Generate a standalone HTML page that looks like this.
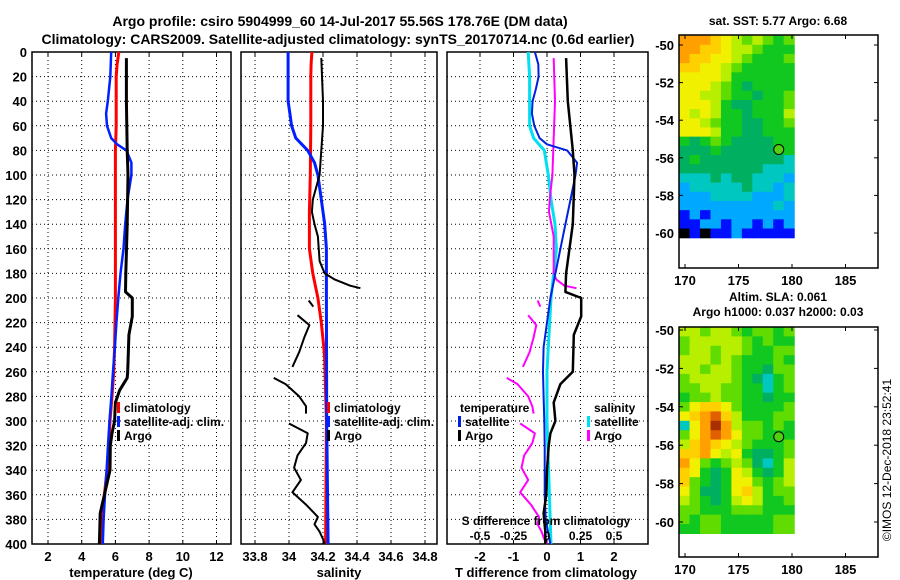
<!DOCTYPE html>
<html><head><meta charset="utf-8"><style>
html,body{margin:0;padding:0;background:#fff;}
svg{display:block;font-family:"Liberation Sans",sans-serif;font-weight:bold;}
</style></head><body>
<svg id="c" width="900" height="580" viewBox="0 0 900 580">
<text x="340" y="26" font-size="14" text-anchor="middle">Argo profile: csiro 5904999_60 14-Jul-2017 55.56S 178.76E (DM data)</text>
<text x="338" y="44" font-size="14" text-anchor="middle">Climatology: CARS2009. Satellite-adjusted climatology: synTS_20170714.nc (0.6d earlier)</text>
<g id="g"></g>
<text transform="translate(891,460) rotate(-90)" font-size="12" font-weight="normal" text-anchor="middle">©IMOS 12-Dec-2018 23:52:41</text>
</svg>
<script>
// ---------- data ----------
const depthTicks=[0,20,40,60,80,100,120,140,160,180,200,220,240,260,280,300,320,340,360,380,400];
const tempTicks=[2,4,6,8,10,12];
const salTicks=[33.8,34,34.2,34.4,34.6,34.8];
const salTickLabels=["33.8","34","34.2","34.4","34.6","34.8"];
const tdTicks=[-2,-1,0,1,2];
const sdTicks=[-0.5,-0.25,0,0.25,0.5];
const sdTickLabels=["-0.5","-0.25","0","0.25","0.5"];

const climTDepth=[0,10,20,60,80,180,200,240,260,280,300,320,340,360,380,400];
const climTVal=[6.2,6.1,6.05,6.05,6.0,6.0,6.0,5.95,5.9,5.8,5.68,5.6,5.5,5.35,5.25,5.15];
const satTDepth=[0,20,40,50,60,70,75,80,90,100,120,140,160,180,200,220,240,260,280,300,320,340,360,380,400];
const satTVal=[5.75,5.7,5.55,5.45,5.5,5.75,6.1,6.65,6.95,6.95,6.72,6.58,6.48,6.3,6.17,6.06,5.97,5.86,5.76,5.65,5.56,5.48,5.38,5.3,5.25];
const argoTDepth=[5,40,80,100,140,180,195,200,215,230,260,265,275,285,300,310,320,340,360,375,400];
const argoTVal=[6.65,6.65,6.7,6.75,6.7,6.62,6.6,7.0,7.0,6.8,6.73,6.7,6.25,6.0,5.95,5.8,5.7,5.68,5.35,5.1,5.05];

const climSDepth=[0,10,20,60,100,130,160,180,200,220,240,250,300,400];
const climSVal=[34.135,34.13,34.128,34.128,34.125,34.12,34.12,34.14,34.17,34.19,34.205,34.21,34.22,34.215];
const satSDepth=[0,40,50,60,70,80,90,100,120,140,160,200,300,400];
const satSVal=[33.995,33.995,34.005,34.015,34.04,34.11,34.15,34.17,34.19,34.21,34.22,34.22,34.222,34.23];
const argoSDepth=[[5,40,60,80,100,110,120,130,140,150,170,180,185,190,192],[202,207],[214,222,232,244,256],[265,270,280,288,294],[302,310,318,328,338,348,358,368,378,384,390,396,400]];
const argoSVal=[[34.19,34.2,34.2,34.19,34.18,34.16,34.14,34.135,34.15,34.17,34.18,34.21,34.27,34.36,34.42],[34.116,34.143],[34.05,34.12,34.09,34.06,34.02],[33.91,33.98,34.06,34.1,34.1],[34.0,34.11,34.1,34.05,34.03,34.07,34.02,34.1,34.17,34.15,34.18,34.2,34.21]];

const dSatTDepth=[0,10,20,30,40,50,60,70,75,80,90,100,120,140,160,180,200,220,240,260,280,300,320,340,360,380,400];
const dSatTVal=[-0.36,-0.26,-0.25,-0.33,-0.43,-0.45,-0.38,-0.22,0,0.6,0.9,0.85,0.7,0.55,0.4,0.25,0.1,0.0,-0.1,-0.12,-0.1,-0.08,-0.07,-0.07,-0.07,-0.04,0.1];
const dArgoTDepth=[5,40,80,100,140,180,195,200,215,230,260,270,285,300,310,320,340,360,375,390,400];
const dArgoTVal=[0.57,0.62,0.77,0.82,0.77,0.57,0.55,1.02,1.02,0.8,0.77,0.4,0.2,0.25,0.1,0.05,0.0,-0.02,-0.1,-0.05,-0.05];
const dSatSDepth=[0,20,60,70,80,100,120,140,160,180,200,240,260,300,400];
const dSatSVal=[-0.14,-0.13,-0.13,-0.1,-0.02,0.01,0.03,0.06,0.07,0.05,0.03,0.01,0.0,0.0,0.03];
const dArgoSDepth=[[5,40,100,120,130,150,180,185,190,192],[202,207],[214,222,232,244,256],[265,270,280,288,294],[302,310,318,328,338,348,358,368,378,384,390,396,400]];
const dArgoSVal=[[0.05,0.06,0.04,0.02,0.015,0.05,0.05,0.07,0.13,0.22],[-0.07,-0.05],[-0.14,-0.08,-0.1,-0.13,-0.18],[-0.3,-0.22,-0.14,-0.11,-0.1],[-0.2,-0.09,-0.11,-0.17,-0.19,-0.14,-0.2,-0.12,-0.06,-0.07,-0.04,-0.02,0.0]];

const lonTicks=[170,175,180,185];
const latTicks=[-50,-52,-54,-56,-58,-60];
const sstTitle="sat. SST: 5.77 Argo: 6.68";
const slaTitle1="Altim. SLA: 0.061";
const slaTitle2="Argo h1000: 0.037 h2000: 0.03";
const floatLon=178.76, floatLat=-55.56;
const sstGrid=["AAA98767656","AA998776555","A9988765556","99887655555","88887555555","88876545555","88776554556","88875445556","87875545557","88765544556","88875544555","54565444455","44454444445","45444444443","44444444333","33343443332","23333343323","22233332223","22222222232","12122222222","11221221212","01011211111"];
const slaGrid=["77677656656","67777765655","67767765566","77767655565","77677655466","67777654356","66776655356","56676655455","68998655556","89AB9755566","38ACA766565","68ABA866555","79A98765556","99A87854456","A8656764357","98545875457","96545886567","86445897566","76545787556","66555666555","65665555566","55665555566"];
const palette={"0":"#000000","1":"#0010ff","2":"#00a8ff","3":"#00c8c0","4":"#00b060","5":"#10c820","6":"#60dc00","7":"#b8ee00","8":"#f0f000","9":"#ffd000","A":"#ffa000","B":"#e06000","C":"#a83000"};

// ---------- helpers ----------
const NS="http://www.w3.org/2000/svg";
const G=document.getElementById('g');
function mk(tag,attrs,parent){const e=document.createElementNS(NS,tag);for(const k in attrs)e.setAttribute(k,attrs[k]);(parent||G).appendChild(e);return e;}
const Y0=52,Y1=544;
const yD=d=>Y0+(d/400)*(Y1-Y0);
const panels=[
 {x0:32,x1:231,f:v=>48+(v-2)*16.85},
 {x0:241,x1:437,f:v=>289+(v-34)*170},
 {x0:447,x1:648,f:v=>547+v*33.5}
];
const sdX=v=>547+v*134;

function grid(p,xt,lbl,name){
  for(const d of depthTicks){
    const l=mk('line',{x1:p.x0,x2:p.x1,y1:yD(d),y2:yD(d),stroke:'#000','stroke-width':1,'stroke-dasharray':'1,3'});
    
    
  }
  xt.forEach((v,i)=>{
    const x=p.f(v);
    const l=mk('line',{x1:x,x2:x,y1:Y0,y2:Y1,stroke:'#000','stroke-width':1,'stroke-dasharray':'1,3'});
    
    
    mk('line',{x1:x,x2:x,y1:Y1,y2:Y1-4,stroke:'#000'});
    mk('line',{x1:x,x2:x,y1:Y0,y2:Y0+4,stroke:'#000'});
    if(lbl){const t=mk('text',{x:x,y:Y1+17,'font-size':13,'text-anchor':'middle'});t.textContent=lbl[i];
      
      }
  });
  const r=mk('rect',{x:p.x0,y:Y0,width:p.x1-p.x0,height:Y1-Y0,fill:'none',stroke:'#000','stroke-width':1.5});
  
  
}
function line(p,f,depths,vals,color,w,name){
  const pts=depths.map((d,i)=>f(vals[i]).toFixed(1)+','+yD(d).toFixed(1)).join(' ');
  const e=mk('polyline',{points:pts,fill:'none',stroke:color,'stroke-width':w,'stroke-linejoin':'round'});
  
  
}
function txt(x,y,s,size,anchor,name,weight){
  const t=mk('text',{x:x,y:y,'font-size':size,'text-anchor':anchor||'start'});
  if(weight)t.setAttribute('font-weight',weight);
  t.textContent=s;
  
  
  return t;
}
function legMark(x,y,c,name){
  const r=mk('rect',{x:x,y:y-10,width:3,height:11,fill:c});
  
  
}

// y labels
for(const d of depthTicks){txt(27,yD(d)+5,String(d),13,'end','y-tick-label');}

// panel 1
const p1=panels[0];
grid(p1,tempTicks,tempTicks.map(String),'temp-panel');
line(p1,p1.f,climTDepth,climTVal,'#ff0000',3,'temp-climatology-line');
line(p1,p1.f,satTDepth,satTVal,'#0020ff',2.5,'temp-satellite-line');
line(p1,p1.f,argoTDepth,argoTVal,'#000',3,'temp-argo-line');
txt(131,577,'temperature (deg C)',13,'middle','temp-x-axis-title');
legMark(117,412,'#ff0000','legend-climatology-mark');txt(124,412,'climatology',12,'start','legend-climatology');
legMark(117,426,'#0020ff','legend-satellite-mark');txt(124,426,'satellite-adj. clim.',12,'start','legend-satellite');
legMark(117,440,'#000','legend-argo-mark');txt(124,440,'Argo',12,'start','legend-argo');

// panel 2
const p2=panels[1];
grid(p2,salTicks,salTickLabels,'sal-panel');
line(p2,p2.f,climSDepth,climSVal,'#ff0000',3,'sal-climatology-line');
line(p2,p2.f,satSDepth,satSVal,'#0020ff',3,'sal-satellite-line');
argoSDepth.forEach((ds,i)=>line(p2,p2.f,ds,argoSVal[i],'#000',2,'sal-argo-segment'));
txt(339,577,'salinity',13,'middle','sal-x-axis-title');
legMark(327,412,'#ff0000','legend2-climatology-mark');txt(334,412,'climatology',12,'start','legend2-climatology');
legMark(327,426,'#0020ff','legend2-satellite-mark');txt(334,426,'satellite-adj. clim.',12,'start','legend2-satellite');
legMark(327,440,'#000','legend2-argo-mark');txt(334,440,'Argo',12,'start','legend2-argo');

// panel 3
const p3=panels[2];
grid(p3,tdTicks,tdTicks.map(String),'diff-panel');
line(p3,sdX,dSatSDepth,dSatSVal,'#00e0f0',3,'diff-sal-satellite-line');
dArgoSDepth.forEach((ds,i)=>line(p3,sdX,ds,dArgoSVal[i],'#ff00ff',2,'diff-sal-argo-segment'));
line(p3,p3.f,dSatTDepth,dSatTVal,'#0020e0',2,'diff-temp-satellite-line');
line(p3,p3.f,dArgoTDepth,dArgoTVal,'#000',2.5,'diff-temp-argo-line');
sdTicks.forEach((v,i)=>txt(sdX(v),540,sdTickLabels[i],12,'middle','s-diff-tick-label'));
txt(546,525,'S difference from climatology',12,'middle','s-diff-axis-title');
txt(546,577,'T difference from climatology',13,'middle','t-diff-axis-title');
txt(460,412,'temperature',12,'start','legend3-temperature-header');
txt(594,412,'salinity',12,'start','legend3-salinity-header');
legMark(458,426,'#0020e0','legend3-temp-satellite-mark');txt(465,426,'satellite',12,'start','legend3-temp-satellite');
legMark(458,440,'#000','legend3-temp-argo-mark');txt(465,440,'Argo',12,'start','legend3-temp-argo');
legMark(587,426,'#00e0f0','legend3-sal-satellite-mark');txt(594,426,'satellite',12,'start','legend3-sal-satellite');
legMark(587,440,'#ff00ff','legend3-sal-argo-mark');txt(594,440,'Argo',12,'start','legend3-sal-argo');

// maps
function map(top,bottom,latTopY,latScale,grid,name){
  const fx0=679,fx1=878;
  const lx=v=>685+(v-170)*10.7;
  const ly=v=>latTopY+(-50-v)*latScale;
  const dLonL=169.45,dLonR=180.2,dLatT=-49.5,dLatB=-60.25;
  const rows=grid.length, cols=grid[0].length;
  const cw=(lx(dLonR)-lx(dLonL))/cols, ch=(ly(dLatB)-ly(dLatT))/rows;
  grid.forEach((row,r)=>{for(let c=0;c<cols;c++){
    const cell=mk('rect',{x:(lx(dLonL)+c*cw).toFixed(2),y:(Math.max(top,ly(dLatT))+r*ch).toFixed(2),width:(cw+0.6).toFixed(2),height:(ch+0.6).toFixed(2),fill:palette[row[c]]});
    
    
  }});
  const cc=mk('circle',{cx:lx(floatLon),cy:ly(floatLat),r:5,fill:'#50d010',stroke:'#000','stroke-width':1});
  
  
  const fr=mk('rect',{x:fx0,y:top,width:fx1-fx0,height:bottom-top,fill:'none',stroke:'#000','stroke-width':1.5});
  
  
  for(const v of latTicks){const y=ly(v);
    mk('line',{x1:fx0,x2:fx0+4,y1:y,y2:y,stroke:'#000'});mk('line',{x1:fx1,x2:fx1-4,y1:y,y2:y,stroke:'#000'});
    txt(674,y+5,String(v),13,'end',name+'-lat-label');}
  for(const v of lonTicks){const x=lx(v);
    mk('line',{x1:x,x2:x,y1:bottom,y2:bottom-4,stroke:'#000'});mk('line',{x1:x,x2:x,y1:top,y2:top+4,stroke:'#000'});
    txt(x,bottom+17,String(v),13,'middle',name+'-lon-label');}
}
map(35,268,45,18.8,sstGrid,'sst-map');
txt(778,25,sstTitle,12,'middle','sst-map-title');
map(327,557,330,19.2,slaGrid,'sla-map');
txt(778,301,slaTitle1,12,'middle','sla-map-title');
txt(778,316,slaTitle2,12,'middle','sla-map-subtitle');
</script>
</body></html>
